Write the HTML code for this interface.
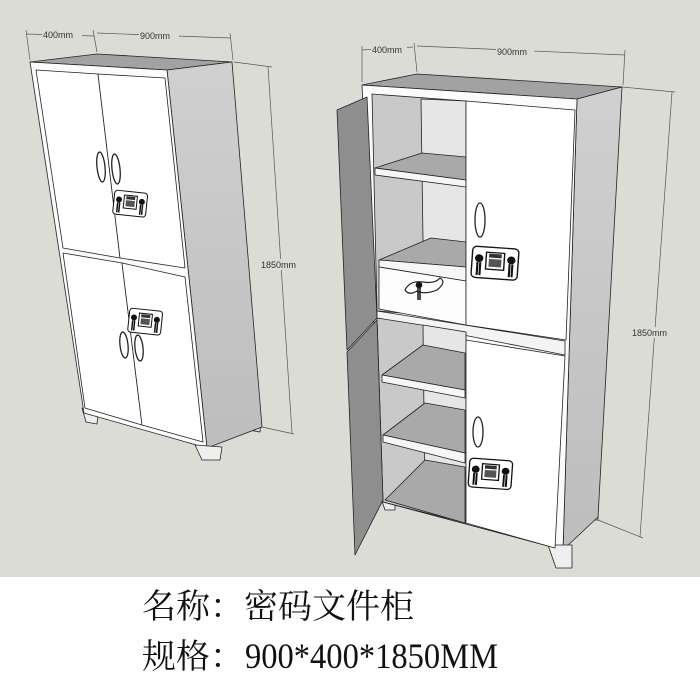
<!DOCTYPE html>
<html><head><meta charset="utf-8"><style>
html,body{margin:0;padding:0;background:#fff;}
svg{display:block}
.t{font-family:"Liberation Sans",sans-serif;font-size:9px;fill:#333}
</style></head><body>
<svg width="700" height="700" viewBox="0 0 700 700" xmlns="http://www.w3.org/2000/svg">
<rect x="0" y="0" width="700" height="577" fill="#dcdcd7"/>
<defs>
<linearGradient id="sd" x1="0" y1="0" x2="0" y2="1"><stop offset="0" stop-color="#d0d0d0"/><stop offset="1" stop-color="#bdbdbd"/></linearGradient>
<g id="lock">
<rect x="0" y="0" width="33" height="24" rx="3" fill="#fff" stroke="#111" stroke-width="1"/>
<rect x="10" y="4" width="13" height="13" fill="#fff" stroke="#111" stroke-width="1"/>
<rect x="12" y="5" width="9" height="3" fill="#333"/>
<rect x="12" y="9" width="9" height="6" fill="#555"/>
<circle cx="5" cy="9" r="3" fill="#111"/><circle cx="28" cy="9" r="3" fill="#111"/>
<path d="M4 12 v10 M6 12 v10 M27 12 v10 M29 12 v10" stroke="#111" stroke-width="1.5"/>
</g>
</defs>
<g stroke="#222" stroke-width="0.8" stroke-linejoin="round">
<!-- LEFT CABINET -->
<polygon points="82,408 98,412 97,424 86,422" fill="#eee"/>
<polygon points="247,420 261,422 260,432 249,430" fill="#ddd"/>
<polygon points="30,62 97,54 232,62 167,70" fill="#a2a2a2"/>
<polygon points="167,70 232,62 262,427 207,448" fill="url(#sd)"/>
<polygon points="30,62 167,70 207,448 84,413" fill="#fbfbfb"/>
<polygon points="195,445 222,447 220,460 202,460" fill="#eee"/>
<polygon points="36,70 98,74 120,258 63,248" fill="#fff"/>
<polygon points="98,74 165,78 185,268 120,258" fill="#fff"/>
<polygon points="63,253 122,263 142,425 85,408" fill="#fff"/>
<polygon points="122,263 185,277 203,442 142,425" fill="#fff"/>
<ellipse cx="101" cy="167" rx="4" ry="15" fill="none" stroke-width="1.3" transform="rotate(-6 101 167)"/>
<ellipse cx="116" cy="169" rx="4" ry="15" fill="none" stroke-width="1.3" transform="rotate(-6 116 169)"/>
<ellipse cx="124" cy="345" rx="4" ry="13" fill="none" stroke-width="1.3" transform="rotate(-6 124 345)"/>
<ellipse cx="139" cy="348" rx="4" ry="13" fill="none" stroke-width="1.3" transform="rotate(-6 139 348)"/>
</g>
<use href="#lock" transform="translate(115,190) rotate(6)"/>
<use href="#lock" transform="translate(130,308) rotate(6)"/>
<!-- left dims -->
<g stroke="#555" stroke-width="0.7" fill="none">
<line x1="26" y1="34" x2="94" y2="36"/><line x1="26" y1="30" x2="30" y2="60"/><line x1="93" y1="30" x2="97" y2="52"/>
<line x1="97" y1="33" x2="230" y2="38"/><line x1="230" y1="33" x2="233" y2="60"/>
<line x1="268" y1="67" x2="292" y2="433"/><line x1="234" y1="62" x2="272" y2="67"/><line x1="262" y1="427" x2="294" y2="434"/>
</g>
<rect x="42" y="29" width="40" height="10" fill="#dcdcd7"/><rect x="139" y="30" width="40" height="10" fill="#dcdcd7"/>
<rect x="260" y="259" width="42" height="11" fill="#dcdcd7"/>
<text class="t" x="43" y="38">400mm</text><text class="t" x="140" y="39">900mm</text><text class="t" x="261" y="268">1850mm</text>

<!-- RIGHT CABINET -->
<g stroke="#222" stroke-width="0.8" stroke-linejoin="round">
<polygon points="380,495 395,495 395,510 385,510" fill="#eee"/>
<polygon points="583,510 598,510 598,520 588,520" fill="#ddd"/>
<polygon points="362,85 417,74 622,87 577,99" fill="#a2a2a2"/>
<polygon points="577,99 622,87 598,517 563,550" fill="url(#sd)"/>
<polygon points="362,85 577,99 563,550 383,502" fill="#fbfbfb"/>
<polygon points="548,545 572,545 572,568 556,568" fill="#eee"/>
<polygon points="372,94 466,101 466,318 377,311" fill="#c9c9c9"/>
<polygon points="421,99 466,101 466,318 424,311" fill="#e6e6e6"/>
<polygon points="375,168 422,153 466,157 466,180" fill="#a9a9a9"/>
<polygon points="375,168 466,180 466,187 375,175" fill="#f6f6f6"/>
<polygon points="379,260 431,238 466,242 466,267" fill="#a9a9a9"/>
<polygon points="379,260 466,267 466,281 379,267" fill="#f6f6f6"/>
<polygon points="379,267 466,281 466,325 379,309" fill="#fdfdfd"/>
<polygon points="377,311 565,341 565,355 377,318" fill="#f4f4f4"/>
<polygon points="377,318 466,332 466,523 383,502" fill="#c9c9c9"/>
<polygon points="423,325 466,332 466,523 425,505" fill="#e6e6e6"/>
<polygon points="382,375 423,345 465,353 465,390" fill="#a9a9a9"/>
<polygon points="382,375 465,390 465,398 382,382" fill="#f6f6f6"/>
<polygon points="383,435 425,403 465,410 465,453" fill="#a9a9a9"/>
<polygon points="383,435 465,453 465,463 383,442" fill="#f6f6f6"/>
<polygon points="385,500 425,460 465,467 465,523" fill="#a9a9a9"/>
<polygon points="466,101 575,110 566,340 466,325" fill="#fff"/>
<polygon points="466,340 565,356 555,548 466,523" fill="#fff"/>
<polygon points="337,110 367,97 377,318 347,350" fill="#8e8e8e"/>
<polygon points="347,352 377,320 383,500 355,555" fill="#8e8e8e"/>
<ellipse cx="480" cy="220" rx="5" ry="17" fill="none" stroke-width="1.3"/>
<ellipse cx="478" cy="432" rx="5" ry="15" fill="none" stroke-width="1.3"/>
<path d="M405,290 q5,-10 18,-8 q12,2 17,-4 q7,4 -3,12 q-12,5 -20,1 q-8,5 -12,-1z" fill="none" stroke-width="1.2"/>
<circle cx="419" cy="285" r="3" fill="#111"/><path d="M418 288v12M420 288v12" stroke="#111" stroke-width="1.5"/>
</g>
<use href="#lock" transform="translate(473,246) rotate(4) scale(1.4,1.3)"/>
<use href="#lock" transform="translate(470,458) rotate(4) scale(1.3,1.2)"/>
<!-- right dims -->
<g stroke="#555" stroke-width="0.7" fill="none">
<line x1="362" y1="50" x2="413" y2="47"/><line x1="362" y1="46" x2="362" y2="82"/><line x1="414" y1="43" x2="417" y2="72"/>
<line x1="417" y1="46" x2="625" y2="55"/><line x1="625" y1="50" x2="623" y2="85"/>
<line x1="672" y1="92" x2="640" y2="537"/><line x1="622" y1="87" x2="675" y2="92"/><line x1="598" y1="520" x2="643" y2="538"/>
</g>
<rect x="371" y="44" width="36" height="10" fill="#dcdcd7"/><rect x="496" y="46" width="38" height="10" fill="#dcdcd7"/>
<rect x="631" y="327" width="44" height="11" fill="#dcdcd7"/>
<text class="t" x="372" y="53">400mm</text><text class="t" x="497" y="55">900mm</text><text class="t" x="632" y="336">1850mm</text>

<text x="142" y="618" style="font-family:'Noto Serif CJK SC',serif;font-size:34px" fill="#111">名称：密码文件柜</text>
<text x="142" y="668" style="font-family:'Noto Serif CJK SC',serif;font-size:34px" fill="#111">规格：</text>
<text x="245" y="668" textLength="253" lengthAdjust="spacingAndGlyphs" style="font-family:'Liberation Serif',serif;font-size:36px" fill="#111">900*400*1850MM</text>
</svg>
</body></html>
